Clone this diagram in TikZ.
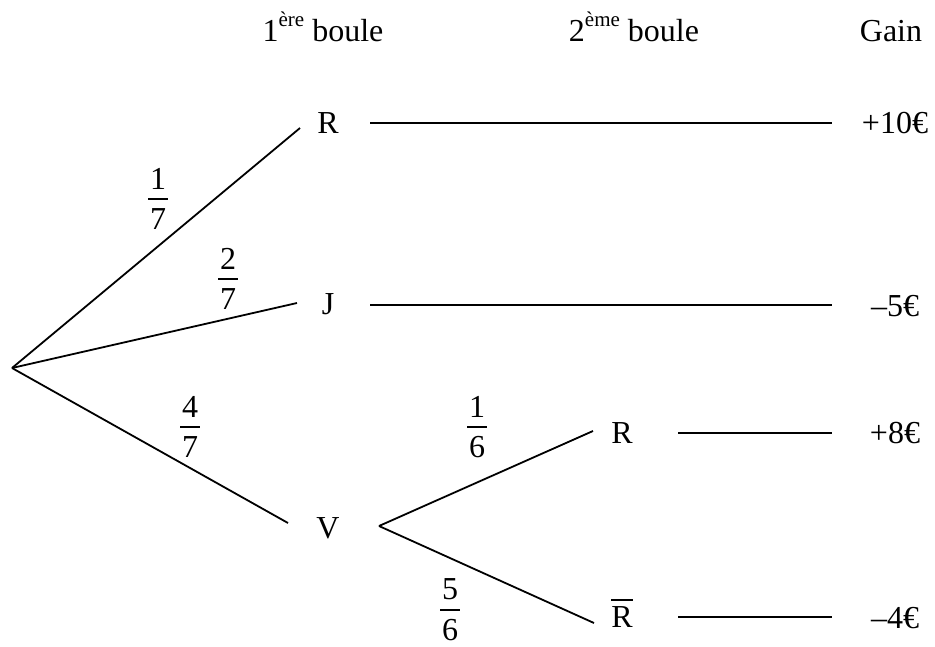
\documentclass[tikz,border=0pt]{standalone}
\usepackage{fontspec}
\setmainfont{Liberation Serif}
\newcommand{\fr}[2]{\vbox{\offinterlineskip\halign{\hfil##\hfil\cr #1\cr\noalign{\kern9pt}\rule{20pt}{1.6pt}\cr\noalign{\kern9pt}#2\cr}}}
\newcommand{\rbar}{\vbox{\offinterlineskip\hrule height 1.6pt\kern5pt\hbox{R}}}
\newcommand{\sps}[1]{\raisebox{15pt}{\fontsize{21}{24}\selectfont #1}}
\begin{document}
\begin{tikzpicture}[x=1pt,y=-1pt,
  font=\fontsize{32}{38}\selectfont,
  every node/.style={inner sep=0pt},
  branch/.style={line width=1.8pt},
  lbl/.style={anchor=base},
  frac/.style={anchor=center}]
\useasboundingbox (0,0) rectangle (935,646);
% headers
\node[lbl] (h1) at (323,41) {1\sps{ère} boule};
\node[lbl] (h2) at (634,41) {2\sps{ème} boule};
\node[lbl] (h3) at (891,41) {Gain};
% tree nodes
\coordinate (O) at (12,368);
\node[lbl] (R1) at (328,133) {R};
\node[lbl] (J) at (328,314) {J};
\node[lbl] (V) at (328,538) {V};
\node[lbl] (R2) at (622,443) {R};
\node[lbl] (R3) at (622,627) {\rbar};
% gains
\node[lbl] (g1) at (895,133) {+10€};
\node[lbl] (g2) at (895,316) {–5€};
\node[lbl] (g3) at (895,443) {+8€};
\node[lbl] (g4) at (895,628) {–4€};
% branch ends
\coordinate (R1in) at (300,128);
\coordinate (Jin) at (297,303);
\coordinate (Vin) at (288,523);
\coordinate (Vout) at (379,526);
\coordinate (R2in) at (593,431);
\coordinate (R3in) at (594,623);
\coordinate (R1out) at (370,123);
\coordinate (g1in) at (832,123);
\coordinate (Jout) at (370,305);
\coordinate (g2in) at (832,305);
\coordinate (R2out) at (678,433);
\coordinate (g3in) at (832,433);
\coordinate (R3out) at (678,617);
\coordinate (g4in) at (832,617);
\draw[branch] (O) -- (R1in);
\draw[branch] (O) -- (Jin);
\draw[branch] (O) -- (Vin);
\draw[branch] (Vout) -- (R2in);
\draw[branch] (Vout) -- (R3in);
\draw[branch] (R1out) -- (g1in);
\draw[branch] (Jout) -- (g2in);
\draw[branch] (R2out) -- (g3in);
\draw[branch] (R3out) -- (g4in);
% probabilities
\node[frac] (p1) at (158,199) {\fr{1}{7}};
\node[frac] (p2) at (228,279) {\fr{2}{7}};
\node[frac] (p3) at (190,427) {\fr{4}{7}};
\node[frac] (p4) at (477,427) {\fr{1}{6}};
\node[frac] (p5) at (450,610) {\fr{5}{6}};
\end{tikzpicture}
\end{document}
